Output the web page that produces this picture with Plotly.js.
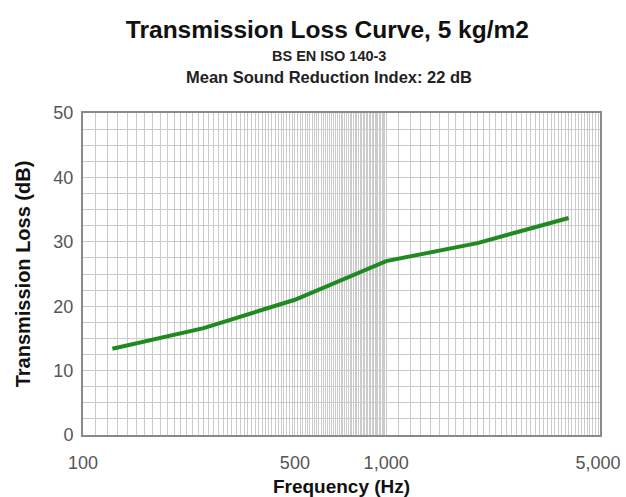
<!DOCTYPE html>
<html>
<head>
<meta charset="utf-8">
<script src="https://cdn.plot.ly/plotly-3.0.1.min.js"></script>
<style>html,body{margin:0;padding:0;background:#fff;}#chart{width:626px;height:497px;}</style>
</head>
<body>
<div id="chart"></div>
<script>
// Data
const frequencies = [125, 250, 500, 1000, 2000, 4000];
const transmissionLoss = [13.4, 16.6, 21.0, 27.0, 29.8, 33.7];

const xLabelValues = [100, 500, 1000, 5000];
const xLabelText = ['100', '500', '1,000', '5,000'];
const yLabelValues = [0, 10, 20, 30, 40, 50];

const titleText = 'Transmission Loss Curve, 5 kg/m2';
const subtitle1 = 'BS EN ISO 140-3';
const subtitle2 = 'Mean Sound Reduction Index: 22 dB';

// Gridline positions (every 10 Hz up to 1 kHz, every 100 Hz up to 5 kHz)
const xGrid = [];
for (let f = 100; f <= 1000; f += 10) xGrid.push(f);
for (let f = 1100; f <= 5000; f += 100) xGrid.push(f);
const xGridText = xGrid.map(v => {
  const i = xLabelValues.indexOf(v);
  return i >= 0 ? xLabelText[i] : '';
});
const yGrid = [];
for (let v = 0; v <= 50; v += 2.5) yGrid.push(v);
const yGridText = yGrid.map(v => yLabelValues.indexOf(v) >= 0 ? String(v) : '');

const font = 'Arial, "Liberation Sans", sans-serif';

const trace = {
  x: frequencies,
  y: transmissionLoss,
  type: 'scatter',
  mode: 'lines',
  line: {color: '#1f8a1f', width: 4},
  hoverinfo: 'x+y'
};

const layout = {
  width: 626,
  height: 497,
  margin: {l: 83, r: 26, t: 113, b: 62},
  paper_bgcolor: '#ffffff',
  plot_bgcolor: '#ffffff',
  showlegend: false,
  font: {family: font, color: '#555'},
  title: {
    text: '<b>' + titleText + '</b>',
    font: {family: font, size: 24.5, color: '#111'},
    x: 0.523, xref: 'container', xanchor: 'center',
    y: 0.94, yref: 'container', yanchor: 'middle'
  },
  annotations: [
    {text: '<b>' + subtitle1 + '</b>', xref: 'paper', yref: 'paper', x: 0.475, y: 1.177,
     xanchor: 'center', yanchor: 'middle', showarrow: false, font: {family: font, size: 14.5, color: '#222'}},
    {text: '<b>' + subtitle2 + '</b>', xref: 'paper', yref: 'paper', x: 0.475, y: 1.112,
     xanchor: 'center', yanchor: 'middle', showarrow: false, font: {family: font, size: 16.5, color: '#222'}}
  ],
  xaxis: {
    type: 'log',
    range: [2, 3.7055],
    tickmode: 'array',
    tickvals: xGrid,
    ticktext: xGridText,
    ticks: '',
    showgrid: true,
    gridcolor: '#cbcbcb',
    gridwidth: 1,
    zeroline: false,
    showline: true,
    linecolor: '#8a8a8a',
    linewidth: 2,
    mirror: true,
    ticklabelstandoff: 10,
    tickfont: {family: font, size: 18, color: '#555'},
    title: {text: '<b>Frequency (Hz)</b>', font: {family: font, size: 19, color: '#111'}, standoff: 10},
    automargin: false
  },
  yaxis: {
    range: [0, 50],
    tickmode: 'array',
    tickvals: yGrid,
    ticktext: yGridText,
    ticks: '',
    showgrid: true,
    gridcolor: '#cbcbcb',
    gridwidth: 1,
    zeroline: false,
    showline: true,
    linecolor: '#8a8a8a',
    linewidth: 2,
    mirror: true,
    ticklabelstandoff: 4,
    tickfont: {family: font, size: 18, color: '#555'},
    title: {text: '<b>Transmission Loss (dB)</b>', font: {family: font, size: 20, color: '#111'}, standoff: 17},
    automargin: false
  }
};

Plotly.newPlot('chart', [trace], layout, {displayModeBar: false, staticPlot: true});
</script>
</body>
</html>
